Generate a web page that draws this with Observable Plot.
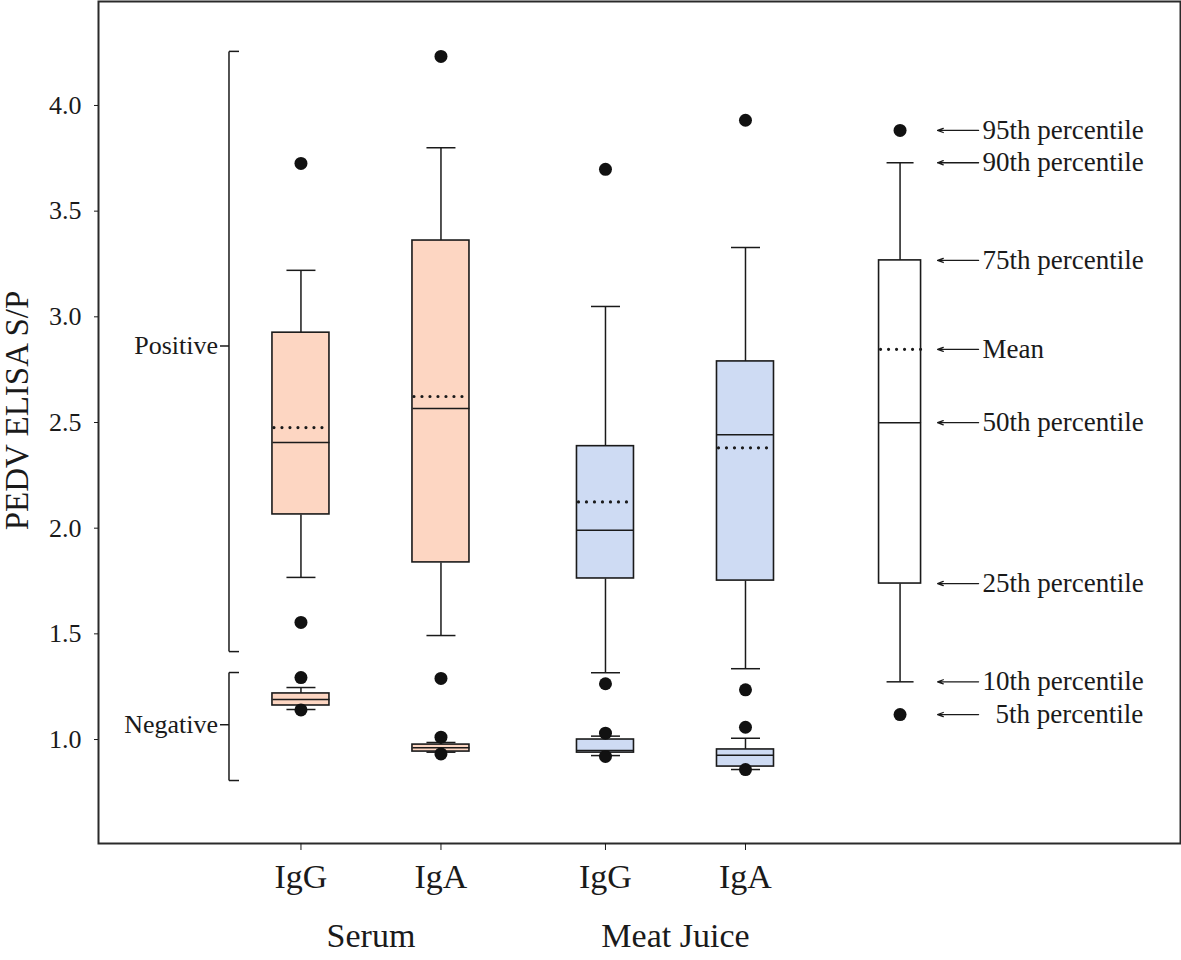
<!DOCTYPE html>
<html>
<head>
<meta charset="utf-8">
<script src="https://cdn.jsdelivr.net/npm/d3@7"></script>
<script src="https://cdn.jsdelivr.net/npm/@observablehq/plot@0.6"></script>
<style>
  html, body { margin: 0; padding: 0; background: #fff; }
  #chart svg { display: block; }
</style>
</head>
<body>
<div id="chart"></div>
<script>
// ---------------- data ----------------
const groups = ["Serum", "Serum", "Meat Juice", "Meat Juice"];
const antibodies = ["IgG", "IgA", "IgG", "IgA"];

// positive samples (whiskers = 10th/90th percentiles)
const posP10    = [1.767, 1.492, 1.316, 1.335];
const posQ1     = [2.065, 1.838, 1.762, 1.752];
const posMedian = [2.405, 2.566, 1.990, 2.442];
const posMean   = [2.476, 2.623, 2.124, 2.380];
const posQ3     = [2.925, 3.361, 2.388, 2.789];
const posP90    = [3.220, 3.800, 3.049, 3.328];

// negative samples
const negP10    = [1.142, 0.940, 0.924, 0.858];
const negQ1     = [1.161, 0.943, 0.938, 0.872];
const negMedian = [1.189, 0.961, 0.948, 0.926];
const negQ3     = [1.218, 0.976, 1.000, 0.953];
const negP90    = [1.246, 0.986, 1.016, 1.006];

// 5th / 95th percentile points
const outliers = [
  [3.726, 1.554, 1.293, 1.140],
  [4.232, 1.289, 1.011, 0.932],
  [3.698, 1.264, 1.030, 0.920],
  [3.930, 1.235, 1.058, 0.858]
];

// key (explanatory box)
const legendLabels = ["95th percentile", "90th percentile", "75th percentile", "Mean",
                      "50th percentile", "25th percentile", "10th percentile", "5th percentile"];
const legendValues = [3.882, 3.729, 3.267, 2.846, 2.499, 1.738, 1.273, 1.118];

// cut-off brackets
const cutoffLabels  = ["Positive", "Negative"];
const cutoffLow     = [1.416, 0.806];
const cutoffHigh    = [4.256, 1.317];
const cutoffLabelAt = [2.862, 1.070];

const yTicks = [1.0, 1.5, 2.0, 2.5, 3.0, 3.5, 4.0];
const yLabel = "PEDV ELISA S/P";

// ---------------- layout (slot units on a linear x scale) ----------------
const PX = 1 / 140;                       // one pixel in slot units
const SLOT = [1, 2, 3.175, 4.175];        // box slots
const KEY_SLOT = 5.279;                   // key box slot
const BRACKET_SLOT = 0.486;
const FILL = {"Serum": "#fdd6c2", "Meat Juice": "#cedbf3"};
const INK = "#1a1a1a";
const FONT = "'Liberation Serif', 'Times New Roman', serif";

const pos = antibodies.map((ab, i) => ({
  x: SLOT[i], fill: FILL[groups[i]],
  p10: posP10[i], q1: posQ1[i], med: posMedian[i], mean: posMean[i], q3: posQ3[i], p90: posP90[i]
}));
const neg = antibodies.map((ab, i) => ({
  x: SLOT[i], fill: FILL[groups[i]],
  p10: negP10[i], q1: negQ1[i], med: negMedian[i], mean: null, q3: negQ3[i], p90: negP90[i]
}));
const key = [{
  x: KEY_SLOT, fill: "#ffffff",
  p10: legendValues[6], q1: legendValues[5], med: legendValues[4], mean: legendValues[3],
  q3: legendValues[2], p90: legendValues[1]
}];
const dots = outliers.flatMap((vals, i) => vals.map(v => ({x: SLOT[i], v})))
  .concat([{x: KEY_SLOT, v: legendValues[0]}, {x: KEY_SLOT, v: legendValues[7]}]);

function boxMarks(rows, hw, cw) {
  const s = {stroke: INK, strokeWidth: 1.5};
  return [
    Plot.link(rows, {x1: "x", x2: "x", y1: "q3", y2: "p90", ...s}),
    Plot.link(rows, {x1: "x", x2: "x", y1: "q1", y2: "p10", ...s}),
    Plot.link(rows, {x1: d => d.x - cw, x2: d => d.x + cw, y1: "p90", y2: "p90", ...s}),
    Plot.link(rows, {x1: d => d.x - cw, x2: d => d.x + cw, y1: "p10", y2: "p10", ...s}),
    Plot.rect(rows, {x1: d => d.x - hw, x2: d => d.x + hw, y1: "q1", y2: "q3",
                     fill: "fill", stroke: INK, strokeWidth: 1.6}),
    Plot.link(rows, {x1: d => d.x - hw, x2: d => d.x + hw, y1: "med", y2: "med", ...s}),
    Plot.link(rows.filter(d => d.mean != null), {
      x1: d => d.x - hw + 1.5 * PX, x2: d => d.x + hw, y1: "mean", y2: "mean",
      stroke: INK, strokeWidth: 3.2, strokeDasharray: "0,8", strokeLinecap: "round"})
  ];
}

const cut = cutoffLabels.map((t, i) => ({t, lo: cutoffLow[i], hi: cutoffHigh[i], at: cutoffLabelAt[i]}));
const keyRows = legendLabels.map((t, i) => ({t, v: legendValues[i], indent: t.startsWith("5th")}));
const tickRows = antibodies.map((ab, i) => ({x: SLOT[i], ab}));
const groupRows = [...new Set(groups)].map(g => ({
  g, x: d3.mean(SLOT.filter((s, i) => groups[i] === g))
}));

const chart = Plot.plot({
  width: 1181, height: 960,
  marginLeft: 98, marginRight: 1, marginTop: 1, marginBottom: 117,
  style: {fontFamily: FONT, background: "#fff", color: INK, overflow: "visible"},
  color: {type: "identity"},
  x: {domain: [-0.446, 7.282], axis: null},
  y: {domain: [0.508, 4.492], axis: null},
  marks: [
    Plot.frame({stroke: "#2a2a2a", strokeWidth: 2}),
    Plot.axisY(yTicks, {tickSize: 4, tickPadding: 13, tickFormat: d3.format(".1f"), label: null,
                        fontSize: 26, stroke: INK, fill: INK}),
    Plot.axisX(SLOT, {tickSize: 7, tickFormat: () => "", label: null, stroke: INK}),
    Plot.text([yLabel], {text: d => d, frameAnchor: "left", textAnchor: "middle", rotate: -90,
                         dx: -81, dy: -12, fontSize: 33, fill: INK}),
    Plot.text(tickRows, {x: "x", text: "ab", frameAnchor: "bottom", dy: 44, fontSize: 34, fill: INK}),
    Plot.text(groupRows, {x: "x", text: "g", frameAnchor: "bottom", dy: 103, fontSize: 34, fill: INK}),

    // cut-off brackets
    Plot.link(cut, {x1: BRACKET_SLOT, x2: BRACKET_SLOT, y1: "lo", y2: "hi", stroke: INK, strokeWidth: 1.5}),
    Plot.link(cut, {x1: BRACKET_SLOT, x2: BRACKET_SLOT + 10 * PX, y1: "hi", y2: "hi", stroke: INK, strokeWidth: 1.5}),
    Plot.link(cut, {x1: BRACKET_SLOT, x2: BRACKET_SLOT + 10 * PX, y1: "lo", y2: "lo", stroke: INK, strokeWidth: 1.5}),
    Plot.link(cut, {x1: BRACKET_SLOT, x2: BRACKET_SLOT - 9 * PX, y1: "at", y2: "at", stroke: INK, strokeWidth: 1.5}),
    Plot.text(cut, {x: BRACKET_SLOT - 11 * PX, y: "at", text: "t", textAnchor: "end", fontSize: 26, fill: INK}),

    // boxes
    ...boxMarks(pos, 28.5 * PX, 14.5 * PX),
    ...boxMarks(neg, 28.5 * PX, 14.5 * PX),
    ...boxMarks(key, 21 * PX, 13.5 * PX),
    Plot.dot(dots, {x: "x", y: "v", r: 6.5, fill: "#111", stroke: "none"}),

    // key arrows and labels
    Plot.arrow(keyRows, {x1: KEY_SLOT + 78.5 * PX, x2: KEY_SLOT + 37.5 * PX, y: "v",
                         stroke: INK, strokeWidth: 1.3, headLength: 7, headAngle: 40}),
    Plot.text(keyRows.filter(d => !d.indent), {x: KEY_SLOT + 82.5 * PX, y: "v", text: "t",
                         textAnchor: "start", fontSize: 27, fill: INK}),
    Plot.text(keyRows.filter(d => d.indent), {x: KEY_SLOT + 95.5 * PX, y: "v", text: "t",
                         textAnchor: "start", fontSize: 27, fill: INK})
  ]
});
document.getElementById("chart").appendChild(chart);
</script>
</body>
</html>
